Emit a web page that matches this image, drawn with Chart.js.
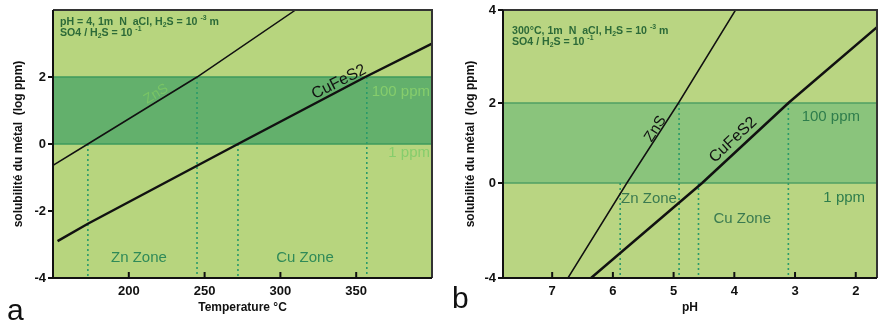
<!DOCTYPE html>
<html>
<head>
<meta charset="utf-8">
<script src="https://cdn.jsdelivr.net/npm/chart.js@4.4.1/dist/chart.umd.min.js"></script>
<style>
html, body { margin: 0; padding: 0; background: #fff; }
#wrap { position: relative; width: 879px; height: 320px; }
#ca { position: absolute; left: 0; top: 0; }
#cb { position: absolute; left: 440px; top: 0; }
</style>
</head>
<body>
<div id="wrap">
  <canvas id="ca" width="440" height="320"></canvas>
  <canvas id="cb" width="439" height="320"></canvas>
</div>
<script>
// panel a : solubility vs temperature (pH = 4)
const tempTicks = [200, 250, 300, 350];
const logTicksA = [-4, -2, 0, 2];
const znsTemp = [150, 173, 245, 310];
const znsLogA = [-0.64, 0, 2, 4];
const cuTemp = [153, 173, 272, 356, 400];
const cuLogA = [-2.9, -2.38, 0, 2, 3.0];
const zoneTempA = [173, 245, 272, 357];
const zoneTopA = [0, 2, 0, 2];

// panel b : solubility vs pH (300 °C)
const phTicks = [7, 6, 5, 4, 3, 2];
const logTicksB = [-4, 0, 2, 4];
const znsPH = [6.74, 5.77, 4.92, 3.98];
const znsLogB = [-4, 0, 2, 4];
const cuPH = [6.36, 4.53, 3.11, 1.65];
const cuLogB = [-4, 0, 2, 3.63];
const zonePH = [5.88, 4.91, 4.59, 3.11];
const zoneTopB = [0, 2, 0, 2];

// 1 ppm and 100 ppm levels (log ppm)
const ppmLevels = [0, 2];

const FAMILY = '"Liberation Sans", Arial, sans-serif';
Chart.defaults.font.family = FAMILY;

// the y axis of panel b is not evenly spaced in the original figure
const stopsB = [[-4, 0], [0, 0.3545], [2, 0.653], [4, 1]];
class BrokenScale extends Chart.LinearScale {
  toDec(v) {
    const s = stopsB;
    let i = 1;
    while (i < s.length - 1 && v > s[i][0]) i++;
    const [v0, d0] = s[i - 1], [v1, d1] = s[i];
    return d0 + (v - v0) / (v1 - v0) * (d1 - d0);
  }
  getPixelForValue(v) {
    return v === null || v === undefined ? NaN : this.getPixelForDecimal(this.toDec(v));
  }
  getValueForPixel(p) {
    const d = this.getDecimalForPixel(p), s = stopsB;
    let i = 1;
    while (i < s.length - 1 && d > s[i][1]) i++;
    const [v0, d0] = s[i - 1], [v1, d1] = s[i];
    return v0 + (d - d0) / (d1 - d0) * (v1 - v0);
  }
}
BrokenScale.id = 'broken';
BrokenScale.defaults = Chart.LinearScale.defaults;
Chart.register(BrokenScale);

const pts = (xs, ys) => xs.map((x, i) => ({x: x, y: ys[i]}));

function curve(xs, ys, w) {
  return {data: pts(xs, ys), borderColor: '#111', borderWidth: w, pointRadius: 0, tension: 0};
}
function zoneLines(xs, tops) {
  return xs.map((x, i) => ({
    data: [{x: x, y: tops[i]}, {x: x, y: -4}],
    borderColor: '#2a9a6a', borderWidth: 1.6, borderDash: [2, 3], pointRadius: 0
  }));
}

function rich(ctx, x, y, parts, size) {
  for (const p of parts) {
    const sz = p.sub || p.sup ? size * 0.65 : size;
    ctx.font = 'bold ' + sz + 'px ' + FAMILY;
    const dy = p.sub ? size * 0.25 : p.sup ? -size * 0.4 : 0;
    ctx.fillText(p.t, x, y + dy);
    x += ctx.measureText(p.t).width;
  }
}

function decor(cfg) {
  return {
    id: 'decor',
    beforeDatasetsDraw(chart) {
      const {ctx, chartArea: a, scales: {x, y}} = chart;
      ctx.save();
      ctx.fillStyle = cfg.light;
      ctx.fillRect(a.left, a.top, a.width, a.height);
      const y0 = y.getPixelForValue(ppmLevels[0]);
      const y2 = y.getPixelForValue(ppmLevels[1]);
      ctx.fillStyle = cfg.band;
      ctx.fillRect(a.left, y2, a.width, y0 - y2);
      ctx.strokeStyle = cfg.bandLine;
      ctx.lineWidth = 1.5;
      for (const py of [y0, y2]) {
        ctx.beginPath(); ctx.moveTo(a.left, py); ctx.lineTo(a.right, py); ctx.stroke();
      }
      ctx.restore();
    },
    afterDatasetsDraw(chart) {
      const {ctx, chartArea: a, scales: {x, y}} = chart;
      ctx.save();
      // labels inside the plot
      for (const t of cfg.texts) {
        ctx.save();
        ctx.translate(x.getPixelForValue(t.x), y.getPixelForValue(t.y));
        ctx.rotate((t.rot || 0) * Math.PI / 180);
        ctx.font = (t.bold ? 'bold ' : '') + t.size + 'px ' + FAMILY;
        ctx.fillStyle = t.color;
        ctx.textAlign = t.align || 'center';
        ctx.textBaseline = 'middle';
        ctx.fillText(t.s, 0, 0);
        ctx.restore();
      }
      // conditions box
      ctx.fillStyle = '#2c6a38';
      ctx.textAlign = 'left';
      ctx.textBaseline = 'middle';
      cfg.note.forEach((line, i) => rich(ctx, a.left + cfg.noteDx, a.top + cfg.noteDy + i * 11.5, line, 10.6));
      // frame
      ctx.lineWidth = 2;
      ctx.strokeStyle = '#333';
      ctx.beginPath(); ctx.moveTo(a.left, a.top); ctx.lineTo(a.right, a.top); ctx.lineTo(a.right, a.bottom); ctx.stroke();
      ctx.strokeStyle = '#111';
      ctx.beginPath(); ctx.moveTo(a.left, a.top); ctx.lineTo(a.left, a.bottom); ctx.lineTo(a.right, a.bottom); ctx.stroke();
      // inward ticks on the x axis
      for (const tk of x.ticks) {
        const px = x.getPixelForValue(tk.value);
        ctx.beginPath(); ctx.moveTo(px, a.bottom); ctx.lineTo(px, a.bottom - 6); ctx.stroke();
      }
      // panel letter
      ctx.fillStyle = '#111';
      ctx.font = '30px ' + FAMILY;
      ctx.fillText(cfg.letter, cfg.letterX, cfg.letterY);
      ctx.restore();
    }
  };
}

function axes(o) {
  return {
    x: {
      type: 'linear', min: o.xmin, max: o.xmax, reverse: !!o.xrev,
      afterFit(s) { s.height = 42; },
      afterBuildTicks(s) { s.ticks = o.xticks.map(v => ({value: v})); },
      grid: {display: false, drawTicks: false},
      border: {display: false},
      ticks: {color: '#111', font: {size: 13, weight: 'bold'}, padding: 6, maxRotation: 0},
      title: {display: true, text: o.xtitle, color: '#111', font: {size: 12, weight: 'bold'}, padding: {top: 0, bottom: 5}}
    },
    y: {
      type: o.ytype, min: -4, max: 4,
      afterFit(s) { s.width = o.yw; },
      afterBuildTicks(s) { s.ticks = o.yticks.map(v => ({value: v})); },
      grid: {drawOnChartArea: false, tickLength: 5, color: '#111', lineWidth: 2},
      border: {display: false},
      ticks: {color: '#111', font: {size: 13, weight: 'bold'}, padding: 2},
      title: {display: true, text: 'solubilité du métal  (log ppm)', color: '#111', font: {size: 12, weight: 'bold'}, padding: {top: o.ytpad, bottom: 0}}
    }
  };
}

const common = {
  responsive: false, animation: false, devicePixelRatio: 1,
  plugins: {legend: {display: false}, tooltip: {enabled: false}}
};

new Chart(document.getElementById('ca'), {
  type: 'line',
  data: {datasets: [curve(znsTemp, znsLogA, 1.5), curve(cuTemp, cuLogA, 2.5)].concat(zoneLines(zoneTempA, zoneTopA))},
  options: Object.assign({}, common, {
    layout: {padding: {top: 10, right: 8, left: 0, bottom: 0}},
    scales: axes({xmin: 150, xmax: 400, xticks: tempTicks, xtitle: 'Temperature °C', ytype: 'linear', yticks: logTicksA, yw: 53, ytpad: 11})
  }),
  plugins: [decor({
    light: '#b7d57e', band: '#63b06c', bandLine: '#3c9a5c',
    letter: 'a', letterX: 7, letterY: 312, noteDx: 7, noteDy: 12,
    note: [
      [{t: 'pH = 4, 1m  N  aCl, H'}, {t: '2', sub: 1}, {t: 'S = 10 '}, {t: '-3', sup: 1}, {t: ' m'}],
      [{t: 'SO4 / H'}, {t: '2', sub: 1}, {t: 'S = 10 '}, {t: '-1', sup: 1}]
    ],
    texts: [
      {s: 'ZnS', x: 218, y: 1.49, rot: -31, size: 14, color: 'rgba(125,200,100,0.85)'},
      {s: 'CuFeS2', x: 338.6, y: 1.85, rot: -27, size: 16, color: '#111'},
      {s: '100 ppm', x: 398.7, y: 1.55, size: 15, align: 'right', color: '#86cd6c'},
      {s: '1 ppm', x: 398.7, y: -0.27, size: 15, align: 'right', color: '#86cd6c'},
      {s: 'Zn Zone', x: 206.7, y: -3.4, size: 15, color: '#2f8a58'},
      {s: 'Cu Zone', x: 316.2, y: -3.4, size: 15, color: '#2f8a58'}
    ]
  })]
});

new Chart(document.getElementById('cb'), {
  type: 'line',
  data: {datasets: [curve(znsPH, znsLogB, 1.5), curve(cuPH, cuLogB, 2.5)].concat(zoneLines(zonePH, zoneTopB))},
  options: Object.assign({}, common, {
    layout: {padding: {top: 10, right: 2, left: 0, bottom: 0}},
    scales: axes({xmin: 1.65, xmax: 7.81, xrev: true, xticks: phTicks, xtitle: 'pH', ytype: 'broken', yticks: logTicksB, yw: 63, ytpad: 23})
  }),
  plugins: [decor({
    light: '#b9d582', band: '#8ac47c', bandLine: '#4f9f63',
    letter: 'b', letterX: 12, letterY: 300, noteDx: 9, noteDy: 21,
    note: [
      [{t: '300°C, 1m  N  aCl, H'}, {t: '2', sub: 1}, {t: 'S = 10 '}, {t: '-3', sup: 1}, {t: ' m'}],
      [{t: 'SO4 / H'}, {t: '2', sub: 1}, {t: 'S = 10 '}, {t: '-1', sup: 1}]
    ],
    texts: [
      {s: 'ZnS', x: 5.30, y: 1.35, rot: -57.5, size: 15, color: '#111'},
      {s: 'CuFeS2', x: 4.02, y: 1.075, rot: -43, size: 16, color: '#111'},
      {s: '100 ppm', x: 2.41, y: 1.65, size: 15, color: '#2e7d4c'},
      {s: '1 ppm', x: 2.19, y: -0.63, size: 15, color: '#2e7d4c'},
      {s: 'Zn Zone', x: 5.405, y: -0.67, size: 15, color: '#3a7a50'},
      {s: 'Cu Zone', x: 3.87, y: -1.52, size: 15, color: '#3a7a50'}
    ]
  })]
});
</script>
</body>
</html>
